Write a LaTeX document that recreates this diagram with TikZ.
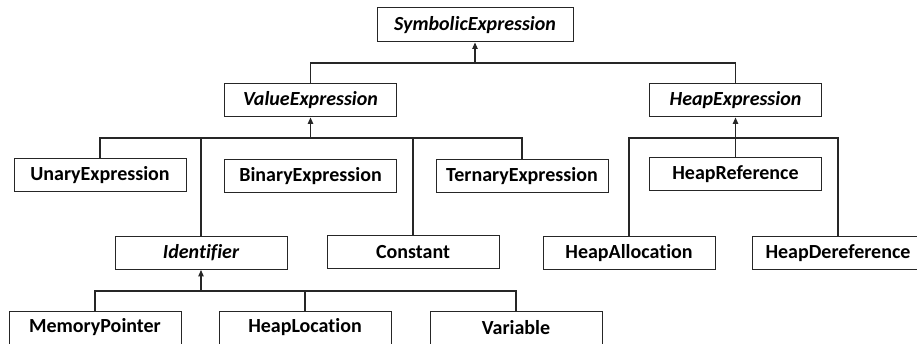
\documentclass[tikz,border=0pt]{standalone}
\usepackage{fontspec}
\setmainfont{Carlito}[Ligatures=CommonOff]
\usetikzlibrary{arrows.meta}
\begin{document}
\begin{tikzpicture}[x=1pt,y=-1pt,
  cls/.style={draw=black!85,line width=1pt,minimum width=172pt,minimum height=33pt,inner sep=0pt,fill=white,font=\fontsize{20}{24}\selectfont\bfseries},
  abs/.style={cls,font=\fontsize{20}{24}\selectfont\bfseries\itshape},
  conn/.style={line width=1.1pt,draw=black!85},
  inh/.style={conn,-{Triangle[length=6.5pt,width=5.5pt]}}]
\useasboundingbox (0,0) rectangle (917,344);
\fill[white] (0,0) rectangle (917,344);
% nodes
\node[abs,minimum width=196pt,minimum height=34pt] (se) at (475,25) {SymbolicExpression};
\node[abs] (ve) at (310.5,100.5) {ValueExpression};
\node[abs] (he) at (735.5,100.5) {HeapExpression};
\node[cls] (ue) at (100,175.5) {UnaryExpression};
\node[cls] (be) at (310.5,176.5) {BinaryExpression};
\node[cls] (te) at (522,176.5) {TernaryExpression};
\node[cls] (hr) at (735.5,174.5) {HeapReference};
\node[abs] (id) at (201,253) {Identifier};
\node[cls] (co) at (413,252.5) {Constant};
\node[cls] (ha) at (629,253.5) {HeapAllocation};
\node[cls] (hd) at (838,253.5) {HeapDereference};
\node[cls] (mp) at (95,327.5) {MemoryPointer};
\node[cls] (hl) at (305,327.5) {HeapLocation};
\node[cls] (va) at (516,327.5) {Variable};
% top level
\coordinate (j1) at (475,63);
\draw[conn] (ve.north) -- (ve.north |- j1) -- (he.north |- j1) -- (he.north);
\draw[inh] (j1) -- (se.south);
% value expression children
\coordinate (j2) at (310.5,138);
\draw[conn] (ue.north) -- (ue.north |- j2) -- (te.north |- j2) -- (te.north);
\draw[conn] (id.north) -- (id.north |- j2);
\draw[conn] (co.north) -- (co.north |- j2);
\draw[inh] (j2) -- (ve.south);
% heap expression children
\coordinate (j3) at (735.5,138);
\draw[conn] (ha.north) -- (ha.north |- j3) -- (hd.north |- j3) -- (hd.north);
\draw[inh] (hr.north) -- (he.south);
% identifier children
\coordinate (j4) at (201,291);
\draw[conn] (mp.north) -- (mp.north |- j4) -- (va.north |- j4) -- (va.north);
\draw[conn] (hl.north) -- (hl.north |- j4);
\draw[inh] (j4) -- (id.south);
\end{tikzpicture}
\end{document}
